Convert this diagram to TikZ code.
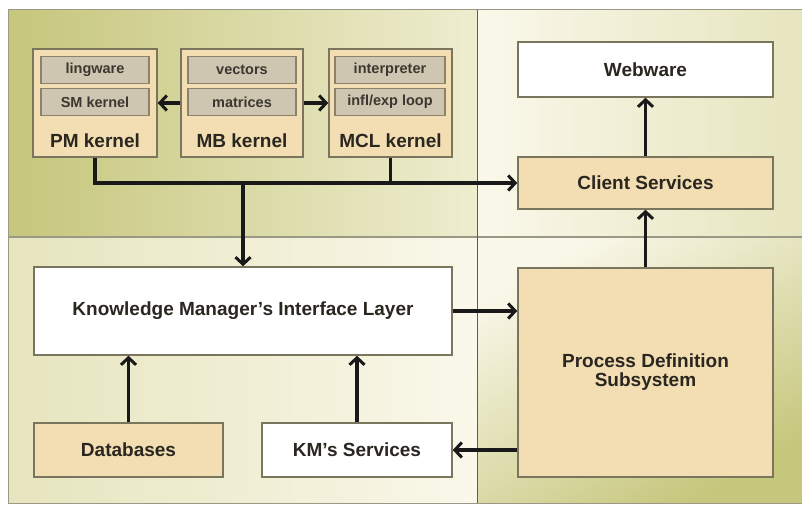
\documentclass[tikz,border=0pt]{standalone}
\usepackage{fontspec}
\setmainfont{Liberation Sans}
\usetikzlibrary{arrows.meta,calc}

\definecolor{olivedeep}{HTML}{C6C67C}
\definecolor{olivemid}{HTML}{DCDBA6}
\definecolor{olivepale}{HTML}{EEEDCF}
\definecolor{olivefaint}{HTML}{E6E5BE}
\definecolor{creampale}{HTML}{FAF8EA}
\definecolor{panelrule}{HTML}{9A9986}
\definecolor{paneldark}{HTML}{5E5D50}
\definecolor{boxline}{HTML}{7A765E}
\definecolor{tanfill}{HTML}{F2DEB2}
\definecolor{cellfill}{HTML}{CEC6B0}
\definecolor{cellline}{HTML}{8A826A}
\definecolor{labelink}{HTML}{2A2620}
\definecolor{cellink}{HTML}{3C3730}

\newcommand{\mainlabelfont}{\fontsize{19}{19}\selectfont\bfseries}
\newcommand{\cellfont}{\fontsize{14.5}{15}\selectfont\bfseries}

\tikzset{
  box/.style={draw=boxline, line width=1.5pt, fill=tanfill, inner sep=0pt,
    font=\mainlabelfont, text=labelink, align=center},
  whitebox/.style={box, fill=white},
  cell/.style={draw=cellline, line width=1.2pt, fill=cellfill, inner sep=0pt,
    minimum height=27pt, font=\cellfont, text=cellink},
  caption/.style={font=\mainlabelfont, text=labelink, inner sep=0pt},
  link/.style={line width=3.4pt, draw=black!90},
  arr/.style={link, -{Straight Barb[length=7pt,width=15pt,line width=3pt]}},
}

\begin{document}
\begin{tikzpicture}[x=1pt,y=-1pt]
\useasboundingbox (0,0) rectangle (802,508);

% ---- four shaded quadrants of the panel ----
\shade[left color=olivedeep, right color=olivepale] (8,10) rectangle (477,237);
\shade[left color=creampale, right color=olivefaint] (477,10) rectangle (802,237);
\shade[left color=olivefaint, right color=creampale] (8,237) rectangle (477,503);
\shade[top color=creampale, bottom color=olivedeep, shading angle=30] (477,237) rectangle (802,503);
\draw[panelrule, line width=1pt] (8,10) rectangle (802,503);
\draw[panelrule, line width=2pt] (8,237) -- (802,237);
\draw[paneldark, line width=0.8pt] (477,10) -- (477,503);

% ---- kernel blocks ----
\node[box, minimum width=124pt, minimum height=108pt] (pm) at (95,103) {};
\node[cell, minimum width=108pt] (lingware) at (95,70) {lingware};
\node[cell, minimum width=108pt] (smk) at (95,102) {SM kernel};
\node[caption] (pmcap) at (95,141) {PM kernel};

\node[box, minimum width=122pt, minimum height=108pt] (mb) at (242,103) {};
\node[cell, minimum width=108pt] (vectors) at (242,70) {vectors};
\node[cell, minimum width=108pt] (matrices) at (242,102) {matrices};
\node[caption] (mbcap) at (242,141) {MB kernel};

\node[box, minimum width=123pt, minimum height=108pt] (mcl) at (390.5,103) {};
\node[cell, minimum width=110pt] (interp) at (390,70) {interpreter};
\node[cell, minimum width=110pt] (loop) at (390,102) {infl/exp loop};
\node[caption] (mclcap) at (390.5,141) {MCL kernel};

% ---- right column ----
\node[whitebox, minimum width=255pt, minimum height=55pt] (web) at (645.5,69.5) {Webware};
\node[box, minimum width=255pt, minimum height=52pt] (client) at (645.5,183) {Client Services};
\node[box, minimum width=255pt, minimum height=209pt] (pds) at (645.5,372.5)
  {Process Definition\\Subsystem};

% ---- lower left ----
\node[whitebox, minimum width=418pt, minimum height=88pt] (kmil) at (243,311)
  {Knowledge Manager's Interface Layer};
\node[box, minimum width=189pt, minimum height=54pt] (db) at (128.5,450) {Databases};
\node[whitebox, minimum width=190pt, minimum height=54pt] (kms) at (357,450) {KM's Services};

% ---- connectors ----
\draw[arr] (mb.west) -- (pm.east);
\draw[arr] (mb.east) -- (mcl.east -| mcl.west);
\coordinate (busend) at (client.west);
\draw[arr] (pm.south) |- (busend);
\draw[link] (mcl.south) -- (mcl.south |- busend);
\draw[arr] (kmil.north |- busend) -- (kmil.north);
\draw[arr] (client.north) -- (web.south);
\draw[arr] (pds.north) -- (client.south);
\draw[arr] (kmil.east) -- (kmil.east -| pds.west);
\draw[arr] (db.north) -- (db.north |- kmil.south);
\draw[arr] (kms.north) -- (kms.north |- kmil.south);
\draw[arr] (kms.east -| pds.west) -- (kms.east);
\end{tikzpicture}
\end{document}
